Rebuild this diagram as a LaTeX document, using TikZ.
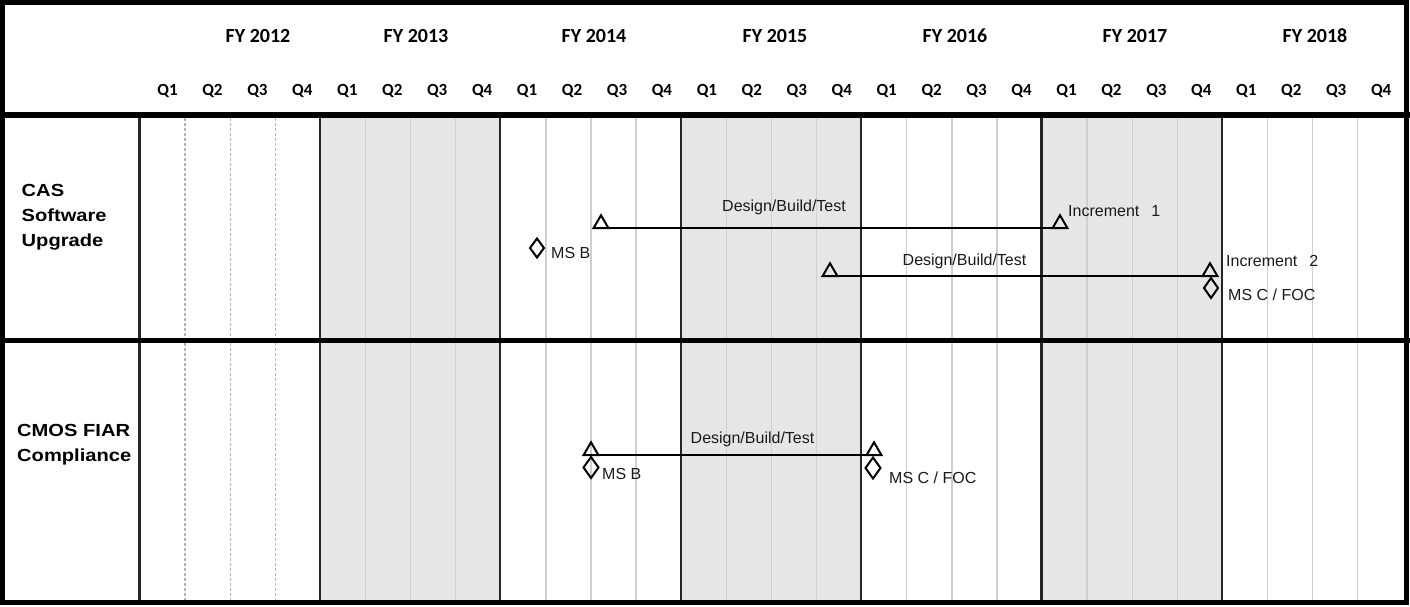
\documentclass[tikz,border=0pt]{standalone}
\usepackage{fontspec}
\setmainfont{Liberation Sans}
\newfontfamily\hdrfont{Carlito}
\newfontfamily\rowfont[FakeStretch=1.15]{Liberation Sans}
\usetikzlibrary{shapes.geometric}
\definecolor{yearshade}{HTML}{E6E6E6}
\definecolor{qline}{HTML}{CFCFCF}
\definecolor{qdash}{HTML}{B4B4B4}
\definecolor{fyline}{HTML}{262626}
\definecolor{evtext}{HTML}{1A1A1A}

\begin{document}
\begin{tikzpicture}[x=1pt,y=-1pt,
  fyhead/.style={font=\hdrfont\bfseries\fontsize{20}{24}\selectfont, anchor=base, inner sep=0},
  qhead/.style={font=\hdrfont\bfseries\fontsize{17}{20}\selectfont, anchor=base, inner sep=0},
  rowlabel/.style={font=\rowfont\bfseries\fontsize{17.5}{25}\selectfont, align=left, anchor=north west, inner sep=0},
  evlabel/.style={font=\fontsize{16}{19}\selectfont, text=evtext, inner sep=0},
  mstri/.style={regular polygon, regular polygon sides=3, draw, line width=2pt,
    minimum size=17pt, inner sep=0, outer sep=0, anchor=side 2},
  msdia/.style={diamond, draw, line width=2pt, minimum width=14pt, minimum height=19pt,
    inner sep=0, outer sep=0},
  bar/.style={line width=2pt},
  qsolid/.style={draw=qline, line width=1.4pt},
  qdashed/.style={draw=qdash, line width=1.4pt, dash pattern=on 3pt off 2pt},
  fyrule/.style={draw=fyline, line width=2.3pt}]

% page and background
\useasboundingbox (0,0) rectangle (1410,606);
\fill[white] (0,0) rectangle (1410,606);

% shaded fiscal years (FY 2013, FY 2015, FY 2017)
\foreach \y in {1,3,5}
  \fill[yearshade] ({140+180.4*\y},118) rectangle ({140+180.4*(\y+1)},600);

% quarter rules: dashed in FY 2012, solid afterwards
\foreach \q in {1,2,3}
  \draw[qdashed] ({140+45.1*\q},118) -- ({140+45.1*\q},600);
\foreach \y in {1,...,6}
  \foreach \q in {1,2,3}
    \draw[qsolid] ({140+45.1*(4*\y+\q)},118) -- ({140+45.1*(4*\y+\q)},600);

% fiscal-year rules
\foreach \y in {0,...,6}
  \draw[fyrule] ({139.5+180.4*\y},118) -- ({139.5+180.4*\y},600);

% horizontal rules and frame
\draw[line width=6.5pt] (0,115) -- (1410,115);
\draw[line width=5pt] (0,340.5) -- (1410,340.5);
\draw[line width=5.5pt] (2.5,2.5) rectangle (1406.5,602.5);

% header: fiscal years
\node[fyhead] (fy12) at (258,42) {FY 2012};
\node[fyhead] (fy13) at (416,42) {FY 2013};
\node[fyhead] (fy14) at (594,42) {FY 2014};
\node[fyhead] (fy15) at (775,42) {FY 2015};
\node[fyhead] (fy16) at (955,42) {FY 2016};
\node[fyhead] (fy17) at (1135,42) {FY 2017};
\node[fyhead] (fy18) at (1315,42) {FY 2018};

% header: quarters
\foreach \y in {0,...,6}
  \foreach \q in {1,2,3,4}
    \node[qhead] (q\y\q) at ({167.5+44.95*(4*\y+\q-1)},95) {Q\q};

% row labels
\node[rowlabel] (cas) at (21.5,184.5) {CAS\\Software\\Upgrade};
\node[rowlabel] (cmos) at (17,424.5) {CMOS FIAR\\Compliance};

% CAS Software Upgrade
\node[msdia] (casmsb) at (537,248) {};
\node[evlabel, anchor=base west] (casmsbl) at (551,258) {MS B};
\node[mstri] (cass1) at (601,228) {};
\node[mstri] (casi1) at (1060,228) {};
\draw[bar] (cass1.corner 2) -- (casi1.corner 3);
\node[evlabel, anchor=base] (casdbt1) at (784,211) {Design/Build/Test};
\node[evlabel, anchor=base west] (casi1l) at (1068,216) {Increment\hspace{12pt}1};

\node[mstri] (cass2) at (830,276) {};
\node[mstri] (casi2) at (1210,276) {};
\draw[bar] (cass2.corner 2) -- (casi2.corner 3);
\node[evlabel, anchor=base] (casdbt2) at (964.5,265) {Design/Build/Test};
\node[evlabel, anchor=base west] (casi2l) at (1226,266) {Increment\hspace{12pt}2};
\node[msdia, minimum height=20pt] (casmsc) at (1211,288) {};
\node[evlabel, anchor=base west] (casmscl) at (1228,300) {MS C / FOC};

% CMOS FIAR Compliance
\node[mstri] (cmoss) at (591,455) {};
\node[mstri] (cmose) at (874,455) {};
\draw[bar] (cmoss.corner 2) -- (cmose.corner 3);
\node[evlabel, anchor=base] (cmosdbt) at (752.5,443) {Design/Build/Test};
\node[msdia, minimum width=15pt, minimum height=21pt] (cmosmsb) at (591,467.5) {};
\node[evlabel, anchor=base west] (cmosmsbl) at (602,479) {MS B};
\node[msdia, minimum width=15pt, minimum height=21pt] (cmosmsc) at (873,468) {};
\node[evlabel, anchor=base west] (cmosmscl) at (889,483) {MS C / FOC};
\end{tikzpicture}
\end{document}
